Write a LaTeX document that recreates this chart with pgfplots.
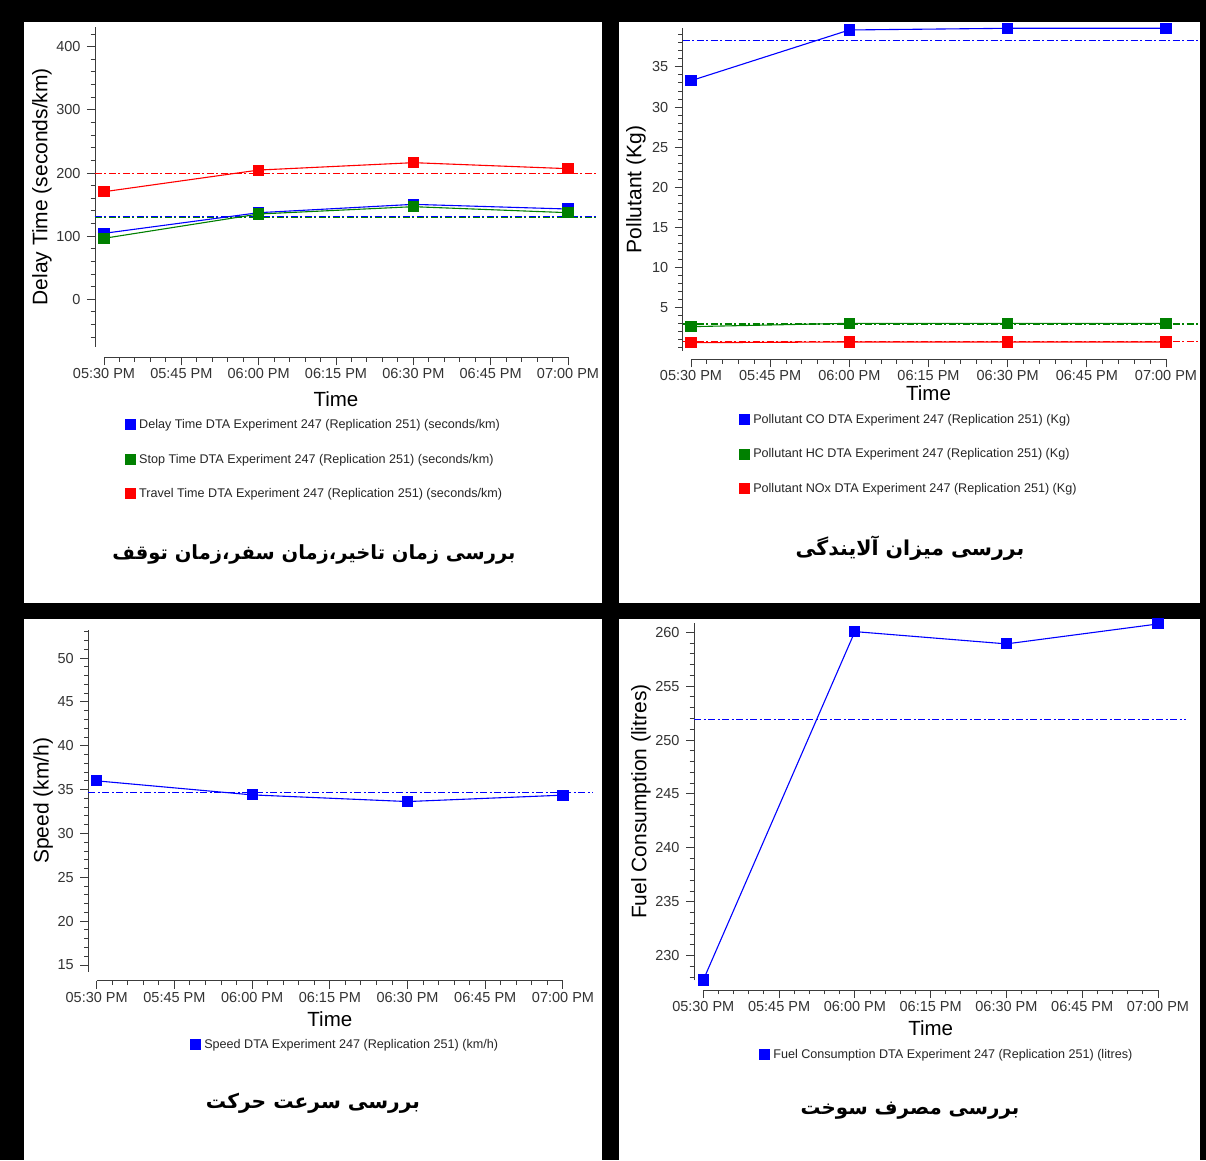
\documentclass[border=0pt]{standalone}
\usepackage{pgfplots}
\pgfplotsset{compat=1.18}
\usepackage{fontspec}
\setmainfont{Liberation Sans}
\newfontfamily\farsi[Script=Arabic]{DejaVu Sans}
\TeXXeTstate=1
\definecolor{axgray}{RGB}{60,60,60}
\definecolor{cblue}{RGB}{0,0,255}
\definecolor{cgreen}{RGB}{0,128,0}
\definecolor{cred}{RGB}{255,0,0}
\pgfplotsset{
 panel/.style={
  scale only axis, clip=false,
  axis x line*=bottom, axis y line*=left,
  axis line style={axgray, line width=1pt},
  every tick/.style={axgray, line width=1pt},
  tick align=outside,
  major tick length=8pt, minor tick length=4.3pt,
  xmin=0, xmax=90, xtick={0,15,...,90}, minor xtick={0,3,...,90},
  xticklabels={05:30 PM,05:45 PM,06:00 PM,06:15 PM,06:30 PM,06:45 PM,07:00 PM},
  ticklabel style={font=\fontsize{14.5}{17}\selectfont, text=black!80},
  yticklabel style={xshift=-3pt},
  /pgf/number format/assume math mode=true,
  xlabel={Time},
  every axis x label/.style={anchor=center, font=\fontsize{20.5}{24}\selectfont},
  every axis y label/.style={anchor=center, rotate=90, font=\fontsize{21}{24}\selectfont},
  legend cell align=left,
  legend style={draw=none, fill=none, anchor=north west, inner sep=0pt, font=\fontsize{12.6}{14}\selectfont, row sep=20pt, text=black!85,
    nodes={inner xsep=3pt}},
  legend image code/.code={\fill[##1] (0pt,-5pt) rectangle (10pt,5pt);},
 },
 ser/.style={line width=1.1pt, mark=square*, mark size=5pt, mark options={solid}},
}
\tikzset{refdash/.style={line width=1.2pt, dash pattern=on 7pt off 2.5pt on 2pt off 2.5pt}}
\begin{document}
\begin{tikzpicture}
\fill[black] (0,0) rectangle (1206pt,1160pt);
\fill[white] (24pt,557pt) rectangle (602pt,1138pt);
\fill[white] (619pt,557pt) rectangle (1200pt,1138pt);
\fill[white] (24pt,0pt) rectangle (602pt,541pt);
\fill[white] (619pt,0pt) rectangle (1200pt,541pt);

% Top left: delay / stop / travel time
\begin{axis}[panel, at={(104pt,813.3pt)}, anchor=south west, width=464pt, height=320pt,
  ymin=-75, ymax=431.7, ytick={0,100,...,400}, minor ytick={-60,-40,...,420},
  axis x line shift=10.6pt, axis y line shift=9pt,
  ylabel={Delay Time (seconds/km)},
  ylabel style={at={(axis description cs:-0.134,0.5)}},
  xlabel style={at={(axis description cs:0.5,-0.163)}},
  legend style={at={(0.045,-0.22)}}]
\addplot[cgreen, refdash, forget plot] coordinates {(-1.75,130.3) (95.8,130.3)};
\addplot[cblue, refdash, forget plot] coordinates {(-1.75,131.7) (95.8,131.7)};
\addplot[cred, refdash, forget plot] coordinates {(-1.75,199.8) (95.8,199.8)};
\addplot[cblue, ser] coordinates {(0,104.5) (30,137.2) (60,150.4) (90,143.0)};
\addlegendentry{Delay Time DTA Experiment 247 (Replication 251) (seconds/km)}
\addplot[cgreen, ser] coordinates {(0,96.6) (30,135.1) (60,146.7) (90,137.2)};
\addlegendentry{Stop Time DTA Experiment 247 (Replication 251) (seconds/km)}
\addplot[cred, ser] coordinates {(0,170.4) (30,204.7) (60,216.4) (90,206.9)};
\addlegendentry{Travel Time DTA Experiment 247 (Replication 251) (seconds/km)}
\end{axis}

% Top right: pollutants
\begin{axis}[panel, at={(691pt,809.3pt)}, anchor=south west, width=475pt, height=322.4pt,
  ymin=-0.42, ymax=39.83, ytick={5,10,...,35}, minor ytick={0,1,...,39},
  axis x line shift=8.6pt, axis y line shift=8.3pt,
  ylabel={Pollutant (Kg)},
  ylabel style={at={(axis description cs:-0.116,0.5)}},
  xlabel style={at={(axis description cs:0.5,-0.131)}},
  legend style={at={(0.101,-0.19)}}]
\addplot[cblue, refdash, forget plot] coordinates {(-1.57,38.28) (96.06,38.28)};
\addplot[cgreen, refdash, forget plot] coordinates {(-1.57,2.92) (96.06,2.92)};
\addplot[cred, refdash, forget plot] coordinates {(-1.57,0.71) (96.06,0.71)};
\addplot[cblue, ser] coordinates {(0,33.29) (30,39.62) (60,39.83) (90,39.83)};
\addlegendentry{Pollutant CO DTA Experiment 247 (Replication 251) (Kg)}
\addplot[cgreen, ser] coordinates {(0,2.58) (30,3.0) (60,3.0) (90,3.0)};
\addlegendentry{Pollutant HC DTA Experiment 247 (Replication 251) (Kg)}
\addplot[cred, ser] coordinates {(0,0.58) (30,0.67) (60,0.67) (90,0.67)};
\addlegendentry{Pollutant NOx DTA Experiment 247 (Replication 251) (Kg)}
\end{axis}

% Bottom left: speed
\begin{axis}[panel, at={(96.7pt,188.3pt)}, anchor=south west, width=466.3pt, height=341.7pt,
  ymin=14.24, ymax=53.2, ytick={15,20,...,50}, minor ytick={15,16,...,53},
  axis x line shift=9pt, axis y line shift=8.4pt,
  ylabel={Speed (km/h)},
  ylabel style={at={(axis description cs:-0.115,0.5)}},
  xlabel style={at={(axis description cs:0.5,-0.138)}},
  legend style={at={(0.2,-0.191)}}]
\addplot[cblue, refdash, forget plot] coordinates {(-1.62,34.66) (95.8,34.66)};
\addplot[cblue, ser] coordinates {(0,36.0) (30,34.4) (60,33.64) (90,34.37)};
\addlegendentry{Speed DTA Experiment 247 (Replication 251) (km/h)}
\end{axis}

% Bottom right: fuel
\begin{axis}[panel, at={(703.3pt,180pt)}, anchor=south west, width=454.7pt, height=356.7pt,
  ymin=227.75, ymax=260.83, ytick={230,235,...,260}, minor ytick={228,229,...,260},
  axis x line shift=10pt, axis y line shift=9.3pt,
  ylabel={Fuel Consumption (litres)},
  ylabel style={at={(axis description cs:-0.137,0.5)}},
  xlabel style={at={(axis description cs:0.5,-0.135)}},
  legend style={at={(0.1225,-0.188)}}]
\addplot[cblue, refdash, forget plot] coordinates {(-1.84,251.9) (95.5,251.9)};
\addplot[cblue, ser] coordinates {(0,227.75) (30,260.06) (60,258.92) (90,260.77)};
\addlegendentry{Fuel Consumption DTA Experiment 247 (Replication 251) (litres)}
\end{axis}

\node[font=\farsi\bfseries\fontsize{19.5}{24}\selectfont] at (314pt,606pt) {\beginR بررسی زمان تاخیر،زمان سفر،زمان توقف\endR};
\node[font=\farsi\bfseries\fontsize{20.5}{24}\selectfont] at (910pt,612pt) {\beginR بررسی میزان آلایندگی\endR};
\node[font=\farsi\bfseries\fontsize{20.2}{24}\selectfont] at (313pt,57pt) {\beginR بررسی سرعت حرکت\endR};
\node[font=\farsi\bfseries\fontsize{19.8}{24}\selectfont] at (910pt,49pt) {\beginR بررسی مصرف سوخت\endR};

\pgfresetboundingbox
\useasboundingbox (0,0) rectangle (1206pt,1160pt);
\end{tikzpicture}
\end{document}
